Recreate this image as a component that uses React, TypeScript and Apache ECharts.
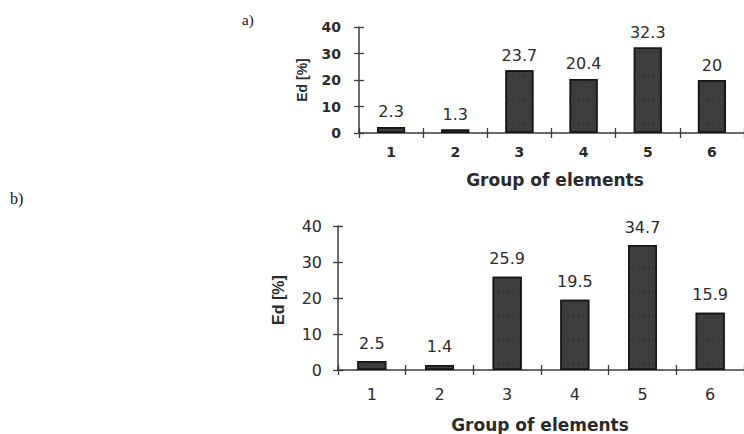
import React, { useEffect, useRef } from "react";
import * as echarts from "echarts";

const categories = ["1", "2", "3", "4", "5", "6"];
const valuesA = [2.3, 1.3, 23.7, 20.4, 32.3, 20];
const valuesB = [2.5, 1.4, 25.9, 19.5, 34.7, 15.9];
const yMin = 0;
const yMax = 40;
const yInterval = 10;
const xTitle = "Group of elements";
const yTitle = "Ed [%]";

const SANS = "DejaVu Sans, Verdana, sans-serif";
const SANS2 = "Liberation Sans, Arial, sans-serif";
const SERIF = "Liberation Serif, Times New Roman, serif";
const AXIS = "#3a3a3a";
const TEXT = "#2a2a2a";

export default function App() {
  const ref = useRef<HTMLDivElement>(null);
  useEffect(() => {
    if (!ref.current) return;
    const chart = echarts.init(ref.current, undefined, { renderer: "svg" });

    const mkY = (grid: number, fs: number, margin: number, inside: boolean, weight: string) => ({
      type: "value",
      gridIndex: grid,
      min: yMin,
      max: yMax,
      interval: yInterval,
      position: "left",
      axisLine: { show: !inside, lineStyle: { color: AXIS, width: 1.5 } },
      axisTick: { show: true, inside, length: 5, lineStyle: { color: AXIS, width: 1.3 } },
      axisLabel: {
        show: !inside,
        margin,
        fontSize: fs,
        fontWeight: weight,
        color: TEXT,
        fontFamily: SANS,
      },
      splitLine: { show: false },
    });
    const mkX = (grid: number, fs: number, margin: number, inside: boolean, weight: string) => ({
      type: "category",
      gridIndex: grid,
      data: categories,
      position: "bottom",
      axisLine: { show: !inside, lineStyle: { color: AXIS, width: 1.5 } },
      axisTick: { show: true, inside, length: 5, lineStyle: { color: AXIS, width: 1.3 } },
      axisLabel: {
        show: !inside,
        margin,
        fontSize: fs,
        fontWeight: weight,
        color: TEXT,
        fontFamily: SANS,
      },
    });

    const barStyle = {
      color: "#3c3c3c",
      borderColor: "#151515",
      borderWidth: 1.5,
      decal: {
        symbol: "rect",
        symbolSize: 0.6,
        color: "rgba(200,200,200,0.18)",
        dashArrayX: [2, 3],
        dashArrayY: [2, 4],
        rotation: 0,
      },
    };

    chart.setOption({
      animation: false,
      backgroundColor: "#ffffff",
      grid: [
        { left: 359, top: 27, width: 390, height: 106 },
        { left: 338, top: 226, width: 409, height: 144 },
      ],
      xAxis: [
        mkX(0, 14, 12, false, "bold"),
        mkX(0, 14, 12, true, "bold"),
        mkX(1, 16, 16, false, "normal"),
        mkX(1, 16, 16, true, "normal"),
      ],
      yAxis: [
        mkY(0, 14, 18, false, "bold"),
        mkY(0, 14, 18, true, "bold"),
        mkY(1, 16, 16, false, "normal"),
        mkY(1, 16, 16, true, "normal"),
      ],
      series: [
        {
          type: "bar",
          xAxisIndex: 0,
          yAxisIndex: 0,
          data: valuesA,
          barWidth: 28,
          itemStyle: barStyle,
          label: {
            show: true,
            position: "top",
            distance: 7,
            fontSize: 16,
            color: TEXT,
            fontFamily: SANS,
          },
        },
        {
          type: "bar",
          xAxisIndex: 2,
          yAxisIndex: 2,
          data: valuesB,
          barWidth: 29,
          itemStyle: barStyle,
          label: {
            show: true,
            position: "top",
            distance: 10,
            fontSize: 16,
            color: TEXT,
            fontFamily: SANS,
          },
        },
      ],
      graphic: [
        {
          type: "text",
          left: 242,
          top: 12,
          style: { text: "a)", font: `15px ${SERIF}`, fill: "#111" },
        },
        {
          type: "text",
          left: 10,
          top: 190,
          style: { text: "b)", font: `16px ${SERIF}`, fill: "#111" },
        },
        {
          type: "text",
          x: 555,
          y: 180,
          style: {
            text: xTitle,
            font: `bold 17px ${SANS}`,
            fill: TEXT,
            textAlign: "center",
            textVerticalAlign: "middle",
          },
        },
        {
          type: "text",
          x: 540,
          y: 425,
          style: {
            text: xTitle,
            font: `bold 17px ${SANS}`,
            fill: TEXT,
            textAlign: "center",
            textVerticalAlign: "middle",
          },
        },
        {
          type: "text",
          x: 302,
          y: 80,
          rotation: Math.PI / 2,
          style: {
            text: yTitle,
            font: `bold 14px ${SANS2}`,
            fill: TEXT,
            textAlign: "center",
            textVerticalAlign: "middle",
          },
        },
        {
          type: "text",
          x: 278,
          y: 300,
          rotation: Math.PI / 2,
          style: {
            text: yTitle,
            font: `bold 16px ${SANS2}`,
            fill: TEXT,
            textAlign: "center",
            textVerticalAlign: "middle",
          },
        },
      ],
    });
    return () => chart.dispose();
  }, []);
  return (
    <div
      ref={ref}
      style={{ position: "absolute", left: 0, top: 0, width: 744, height: 434 }}
    />
  );
}
